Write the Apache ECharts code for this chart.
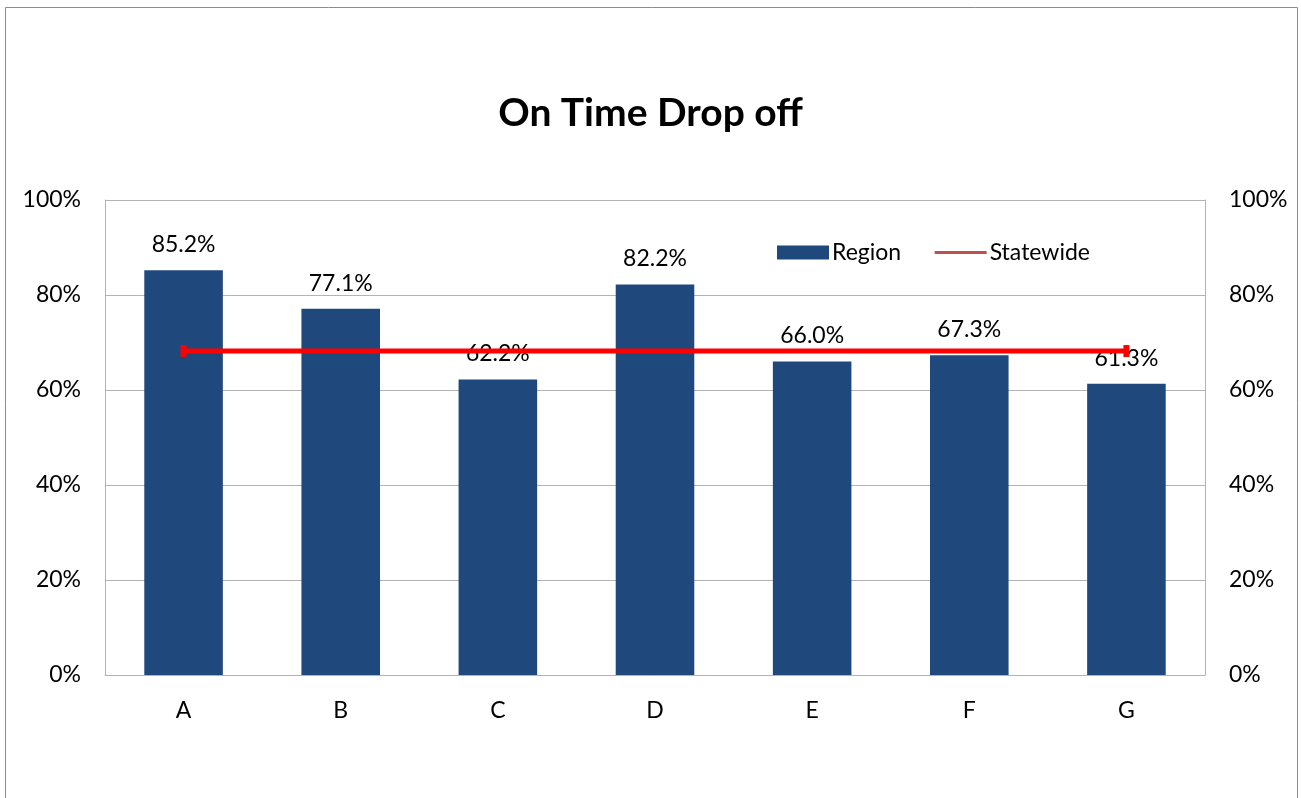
<!DOCTYPE html>
<html>
<head>
<meta charset="utf-8">
<title>On Time Drop off</title>
<script src="https://cdn.jsdelivr.net/npm/echarts@6/dist/echarts.min.js"></script>
<style>
  html, body { margin: 0; padding: 0; background: #ffffff; }
  #chart { width: 1301px; height: 798px; }
</style>
</head>
<body>
<div id="chart"></div>
<script>
// Regions and their on-time drop-off rates (%)
const categories = ['A', 'B', 'C', 'D', 'E', 'F', 'G'];
const regionValues = [85.2, 77.1, 62.2, 82.2, 66.0, 67.3, 61.3];
const statewideValue = 68.2;
const statewideValues = categories.map(() => statewideValue);
const yTicks = [0, 20, 40, 60, 80, 100];

const FONT = 'Lato, "Open Sans", "Liberation Sans", sans-serif';
const gridColor = '#b3b3b3';

// Statewide line: end caps only at the first and last category
const statewidePoints = statewideValues.map((v, i, arr) => ({
  value: v,
  symbol: (i === 0 || i === arr.length - 1) ? 'rect' : 'none'
}));

const chart = echarts.init(document.getElementById('chart'));

const valueAxis = (pos) => ({
  type: 'value',
  position: pos,
  min: yTicks[0],
  max: yTicks[yTicks.length - 1],
  interval: 20,
  axisLine: { show: true, lineStyle: { color: gridColor, width: 1 } },
  axisTick: { show: false },
  splitLine: { show: pos === 'left', lineStyle: { color: gridColor, width: 1 } },
  axisLabel: {
    color: '#000', fontSize: 23, fontFamily: FONT,
    margin: 24,
    formatter: (v) => v + '%'
  }
});

chart.setOption({
  animation: false,
  backgroundColor: '#ffffff',
  graphic: [{
    type: 'rect',
    shape: { x: 5.5, y: 7.5, width: 1292, height: 800 },
    style: { fill: 'none', stroke: '#8c8c8c', lineWidth: 1 },
    silent: true
  }],
  title: {
    text: 'On Time Drop off',
    left: 'center',
    top: 89,
    textStyle: { fontSize: 39, fontWeight: 'bold', color: '#000', fontFamily: FONT }
  },
  legend: {
    top: 236,
    left: 772,
    itemGap: 32,
    itemWidth: 52,
    itemHeight: 14,
    textStyle: { fontSize: 23, color: '#000', fontFamily: FONT, padding: [0, 0, 0, -2] },
    data: [
      { name: 'Region', icon: 'rect', itemStyle: { color: '#1f497d' } },
      {
        name: 'Statewide',
        itemStyle: { color: '#c0504d', opacity: 0 },
        lineStyle: { color: '#c0504d', width: 3, opacity: 1 }
      }
    ]
  },
  grid: { left: 105, right: 96, top: 200, bottom: 123, containLabel: false },
  xAxis: {
    type: 'category',
    data: categories,
    axisLine: { lineStyle: { color: gridColor, width: 1 } },
    axisTick: { show: false },
    axisLabel: { color: '#000', fontSize: 23, fontFamily: FONT, margin: 24 }
  },
  yAxis: [valueAxis('left'), valueAxis('right')],
  series: [
    {
      name: 'Region',
      type: 'bar',
      data: regionValues,
      barWidth: '50%',
      itemStyle: { color: '#1f497d' },
      label: {
        show: true,
        position: 'top',
        distance: 14,
        color: '#000',
        fontSize: 23,
        fontFamily: FONT,
        formatter: (p) => p.value.toFixed(1) + '%'
      },
      z: 2
    },
    {
      name: 'Statewide',
      type: 'line',
      data: statewidePoints,
      symbol: 'none',
      symbolSize: [6, 12],
      showSymbol: true,
      itemStyle: { color: '#ff0000' },
      lineStyle: { color: '#ff0000', width: 5 },
      z: 3
    }
  ]
});
</script>
</body>
</html>
